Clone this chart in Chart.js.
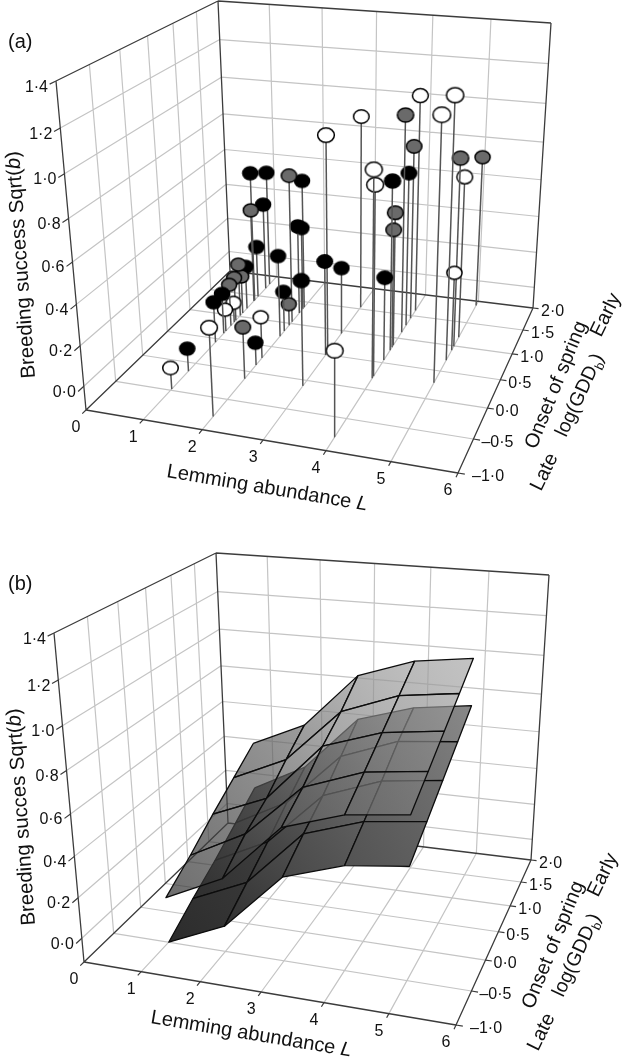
<!DOCTYPE html>
<html>
<head>
<meta charset="utf-8">
<style>
body { margin: 0; background: #fff; }
canvas { display: block; }
</style>
<script src="https://cdn.jsdelivr.net/npm/chart.js@4/dist/chart.umd.min.js"></script>
</head>
<body>
<canvas id="chart" width="622" height="1059"></canvas>
<script>
const lemmingTicks = [0, 1, 2, 3, 4, 5, 6];
const onsetTicks = [-1, -0.5, 0, 0.5, 1, 1.5, 2];
const successTicks = [0, 0.2, 0.4, 0.6, 0.8, 1, 1.2, 1.4];
const lemmingLabels = ['0', '1', '2', '3', '4', '5', '6'];
const onsetLabels = ['\u20131\u00b70', '\u20130\u00b75', '0\u00b70', '0\u00b75', '1\u00b70', '1\u00b75', '2\u00b70'];
const successLabels = ['0\u00b70', '0\u00b72', '0\u00b74', '0\u00b76', '0\u00b78', '1\u00b70', '1\u00b72', '1\u00b74'];

// panel (a) observations
const obsLemming = [1, 1, 2, 2, 1, 1, 2, 2, 1, 2, 3, 3, 3, 2, 2, 1, 1, 1, 1, 1, 1, 1, 1, 1, 2, 2, 2, 2, 1, 1, 4, 3, 3, 4, 5, 4, 5, 4, 5, 5, 4, 4, 5, 4, 4, 4, 4, 4, 5];
const obsOnset = [1.39, 1.80, 1.04, 1.38, 1.37, 1.69, 1.24, 1.34, 1.48, 0.72, 0.49, 0.95, -0.10, 0.83, 0.96, 1.02, 1.19, 0.91, 1.08, 0.79, 0.62, 0.43, 0.87, 0.67, 0.27, -0.79, -0.13, 0.13, -0.15, -0.48, -0.79, 0.55, 1.54, 1.62, 0.71, 1.13, 0.28, 1.44, 0.99, 1.90, 0.20, 0.24, 1.18, 0.75, 1.28, 0.85, 0.81, 0.55, 0.91];
const obsSuccess = [0.60, 0.53, 0.68, 0.59, 0.40, 0.37, 0.37, 0.34, 0.17, 0.32, 0.38, 0.24, 0.42, 0.10, 0.00, 0.17, 0.12, 0.12, 0.09, 0.11, 0.10, 0.10, -0.01, 0.00, 0.10, 0.32, 0.15, 0.00, 0.00, -0.01, 0.30, 1.00, 0.93, 1.05, 1.22, 1.03, 1.20, 0.82, 0.87, 0.71, 0.93, 0.85, 0.74, 0.77, 0.71, 0.59, 0.51, 0.32, 0.30];
const obsClass = ['k', 'k', 'g', 'k', 'g', 'k', 'k', 'k', 'k', 'k', 'k', 'k', 'k', 'k', 'g', 'g', 'k', 'g', 'g', 'g', 'k', 'k', 'w', 'w', 'w', 'w', 'g', 'k', 'k', 'w', 'w', 'w', 'w', 'w', 'w', 'g', 'w', 'g', 'g', 'g', 'w', 'w', 'w', 'k', 'k', 'g', 'g', 'k', 'w'];

// panel (b) fitted surfaces, rows follow surfaceOnset, columns surfaceLemming
const surfaceLemming = [1, 2, 3, 4, 5];
const surfaceOnset = [1.5, 1, 0.5, 0, -0.5];
const upperSurface = [
    [0.48, 0.61, 0.90, 1.00, 1.04],
    [0.39, 0.52, 0.80, 0.91, 0.95],
    [0.30, 0.42, 0.72, 0.82, 0.86],
    [0.20, 0.35, 0.62, 0.73, 0.77],
    [0.11, 0.25, 0.54, 0.64, 0.68]
];
const lowerSurface = [
    [0.23, 0.38, 0.67, 0.76, 0.80],
    [0.14, 0.29, 0.57, 0.68, 0.71],
    [0.05, 0.19, 0.47, 0.58, 0.62],
    [-0.03, 0.10, 0.39, 0.49, 0.53],
    [-0.12, 0.01, 0.30, 0.40, 0.44]
];

const SUCCESS_FLOOR = -0.12;
const SUCCESS_TOP = 1.4;
const GRID = '#c4c4c4';
const FRAME = '#3c3c3c';
const MARKER_FILL = { k: '#000000', g: '#6a6a6a', w: '#ffffff' };

// corners of the drawn box in page pixels
function makeBox(dx, dy) {
    const c = (x, y) => [x + dx, y + dy];
    return {
        a: c(86, 410), b: c(458, 473), c: c(533, 308), d: c(230, 271),
        at: c(56, 81), bt: c(472, 128), ct: c(551, 23), dt: c(218, 1)
    };
}
const boxA = makeBox(0, 0);
const boxB = makeBox(-2, 552);

function foreshorten(t, k) {
    return t / (t + k * (1 - t));
}

// perspective projection of (lemming, onset, success) to chart x/y
function project(box, lemming, onset, success) {
    const u = foreshorten(lemming / 6, 1.1);
    const v = foreshorten((onset + 1) / 3, 0.77);
    const w = foreshorten((success - SUCCESS_FLOOR) / (SUCCESS_TOP - SUCCESS_FLOOR), 1.1);
    const plane = (a, b, c, d, i) => (1 - v) * ((1 - u) * a[i] + u * b[i]) + v * ((1 - u) * d[i] + u * c[i]);
    const axis = i => (1 - w) * plane(box.a, box.b, box.c, box.d, i) + w * plane(box.at, box.bt, box.ct, box.dt, i);
    return { x: axis(0), y: axis(1) };
}

const GAP = { x: NaN, y: NaN };

function lineSet(points, color, width) {
    return {
        data: points, showLine: true, borderColor: color, borderWidth: width,
        pointRadius: 0, tension: 0, fill: false
    };
}

function frameDatasets(box) {
    const grid = [];
    const frame = [];
    const ticks = [];
    const seg = (list, a, b) => list.push(project(box, ...a), project(box, ...b), GAP);
    const lo = SUCCESS_FLOOR;
    const hi = SUCCESS_TOP;

    lemmingTicks.slice(1, -1).forEach(l => {
        seg(grid, [l, -1, lo], [l, 2, lo]);
        seg(grid, [l, 2, lo], [l, 2, hi]);
    });
    onsetTicks.slice(1, -1).forEach(s => {
        seg(grid, [0, s, lo], [6, s, lo]);
        seg(grid, [0, s, lo], [0, s, hi]);
    });
    successTicks.slice(0, -1).forEach(z => {
        seg(grid, [0, -1, z], [0, 2, z]);
        seg(grid, [0, 2, z], [6, 2, z]);
    });

    seg(frame, [0, -1, lo], [6, -1, lo]);
    seg(frame, [6, -1, lo], [6, 2, lo]);
    seg(frame, [6, 2, lo], [0, 2, lo]);
    seg(frame, [0, 2, lo], [0, -1, lo]);
    seg(frame, [0, -1, lo], [0, -1, hi]);
    seg(frame, [0, 2, lo], [0, 2, hi]);
    seg(frame, [6, 2, lo], [6, 2, hi]);
    seg(frame, [0, -1, hi], [0, 2, hi]);
    seg(frame, [0, 2, hi], [6, 2, hi]);

    lemmingTicks.forEach(l => seg(ticks, [l, -1, lo], [l, -1.06, lo]));
    onsetTicks.forEach(s => seg(ticks, [6, s, lo], [6.1, s, lo]));
    successTicks.forEach(z => seg(ticks, [0, -1, z], [0, -1.09, z]));

    return [lineSet(grid, GRID, 1.2), lineSet(frame, FRAME, 1.3), lineSet(ticks, FRAME, 1.2)];
}

function markerImage(fill, w, h) {
    const c = document.createElement('canvas');
    c.width = Math.ceil(w) + 3;
    c.height = Math.ceil(h) + 3;
    const g = c.getContext('2d');
    g.beginPath();
    g.ellipse(c.width / 2, c.height / 2, w / 2, h / 2, 0, 0, Math.PI * 2);
    g.fillStyle = fill;
    g.fill();
    g.lineWidth = 1.5;
    g.strokeStyle = '#000';
    g.stroke();
    return c;
}

function observationDatasets(box) {
    const order = obsLemming.map((_, i) => i);
    order.sort((p, q) => (obsOnset[q] - 0.5 * obsLemming[q]) - (obsOnset[p] - 0.5 * obsLemming[p]));
    return order.map(i => {
        const top = project(box, obsLemming[i], obsOnset[i], obsSuccess[i]);
        const foot = project(box, obsLemming[i], obsOnset[i], SUCCESS_FLOOR);
        const scale = top.y - project(box, obsLemming[i], obsOnset[i], obsSuccess[i] + 0.1).y;
        const w = Math.max(15, scale * 0.8);
        return {
            data: [foot, top], showLine: true, borderColor: '#555', borderWidth: 1.5, tension: 0, fill: false,
            pointRadius: [0, 7], pointStyle: ['circle', markerImage(MARKER_FILL[obsClass[i]], w, w * 0.87)]
        };
    });
}

function shade(ctx, p0, p1, c0, c1) {
    const g = ctx.createLinearGradient(p0.x, p0.y, p1.x, p1.y);
    g.addColorStop(0, c0);
    g.addColorStop(1, c1);
    return g;
}

function surfaceDatasets(ctx, box, rows, colorFor) {
    const sets = [];
    for (let j = 0; j < surfaceOnset.length - 1; j++) {
        for (let i = 0; i < surfaceLemming.length - 1; i++) {
            const cell = [[j, i], [j, i + 1], [j + 1, i + 1], [j + 1, i]].map(([r, c]) => ({
                z: rows[r][c],
                p: project(box, surfaceLemming[c], surfaceOnset[r], rows[r][c])
            }));
            const byZ = cell.slice().sort((a, b) => a.z - b.z);
            const low = byZ[0];
            const high = byZ[3];
            sets.push({
                data: cell.concat(cell[0]).map(v => v.p), showLine: true, tension: 0, pointRadius: 0,
                borderColor: '#0c0c0c', borderWidth: 1.3, borderJoinStyle: 'round',
                fill: 'shape', backgroundColor: shade(ctx, low.p, high.p, colorFor(low.z), colorFor(high.z))
            });
        }
    }
    return sets;
}

function lowerColor(z) {
    const t = (z - SUCCESS_FLOOR) / 0.92;
    const v = Math.round(44 + 92 * Math.pow(t, 1.5));
    return `rgb(${v},${v},${v})`;
}

function upperColor(z) {
    const t = (z - 0.11) / 0.93;
    const v = Math.round(41 + 125 * t);
    return `rgba(${v},${v},${v},0.68)`;
}

// draws rotated text runs, [string, style] where style is '', 'i' or 'sub'
function drawRuns(ctx, x, y, degrees, size, runs) {
    ctx.save();
    ctx.translate(x, y);
    ctx.rotate(degrees * Math.PI / 180);
    ctx.textAlign = 'left';
    ctx.textBaseline = 'alphabetic';
    let pen = 0;
    runs.forEach(([text, style]) => {
        const px = style === 'sub' ? size * 0.65 : size;
        ctx.font = `${style === 'i' ? 'italic ' : ''}${px}px "Liberation Sans"`;
        ctx.fillText(text, pen, style === 'sub' ? size * 0.22 : 0);
        pen += ctx.measureText(text).width;
    });
    ctx.restore();
}

function panelText(ctx, chart, box, o) {
    const sx = chart.scales.x;
    const sy = chart.scales.y;
    const at = p => ({ x: sx.getPixelForValue(p.x), y: sy.getPixelForValue(p.y) });

    ctx.fillStyle = '#111';
    ctx.font = '16px "Liberation Sans"';
    ctx.textBaseline = 'alphabetic';
    ctx.textAlign = 'right';
    successTicks.forEach((z, i) => {
        const p = at(project(box, 0, -1, z));
        ctx.fillText(successLabels[i], p.x - 8, p.y + 10.5);
    });
    ctx.textAlign = 'center';
    lemmingTicks.forEach((l, i) => {
        const p = at(project(box, l, -1, SUCCESS_FLOOR));
        ctx.fillText(lemmingLabels[i], p.x - 10, p.y + 22);
    });
    ctx.textAlign = 'left';
    onsetTicks.forEach((s, i) => {
        const p = at(project(box, 6, s, SUCCESS_FLOOR));
        ctx.fillText(onsetLabels[i], p.x + (i === 0 ? 14 : 8), p.y + 8);
    });

    drawRuns(ctx, 8, o.tag, 0, 20, [[o.letter, '']]);
    drawRuns(ctx, o.yTitle[0], o.yTitle[1], -94, 20.3, [[o.yText + ' Sqrt(', ''], ['b', 'i'], [')', '']]);
    drawRuns(ctx, o.xTitle[0], o.xTitle[1], 9.5, 20, [['Lemming abundance ', ''], ['L', 'i']]);
    const dx = o.side[0];
    const dy = o.side[1];
    drawRuns(ctx, 536 + dx, 450 + dy, -68, 20, [['Onset of spring', '']]);
    drawRuns(ctx, 566 + dx, 438 + dy, -65, 19.5, [['log(GDD', ''], ['b', 'sub'], [')', '']]);
    drawRuns(ctx, 601 + dx, 338 + dy, -64, 20, [['Early', '']]);
    drawRuns(ctx, 541 + dx, 492 + dy, -64, 20, [['Late', '']]);
}

const textPlugin = {
    id: 'panelText',
    afterDraw(chart) {
        const ctx = chart.ctx;
        panelText(ctx, chart, boxA, { letter: '(a)', tag: 48, yText: 'Breeding success', yTitle: [35, 378], xTitle: [166, 477], side: [0, 0] });
        panelText(ctx, chart, boxB, { letter: '(b)', tag: 590, yText: 'Breeding succes', yTitle: [35, 925], xTitle: [150, 1023], side: [-3, 560] });
    }
};

const canvas = document.getElementById('chart');
const context = canvas.getContext('2d');

// datasets listed back to front, reversed below since Chart.js paints index 0 last
const paintOrder = [
    ...frameDatasets(boxA),
    ...observationDatasets(boxA),
    ...frameDatasets(boxB),
    ...surfaceDatasets(context, boxB, lowerSurface, lowerColor),
    ...surfaceDatasets(context, boxB, upperSurface, upperColor)
];

new Chart(context, {
    type: 'scatter',
    data: { datasets: paintOrder.reverse() },
    options: {
        responsive: false,
        animation: false,
        clip: false,
        layout: { padding: 0, autoPadding: false },
        plugins: { legend: { display: false }, tooltip: { enabled: false } },
        scales: {
            x: { type: 'linear', min: 0, max: 622, display: false },
            y: { type: 'linear', min: 0, max: 1059, reverse: true, display: false }
        }
    },
    plugins: [textPlugin]
});
</script>
</body>
</html>
